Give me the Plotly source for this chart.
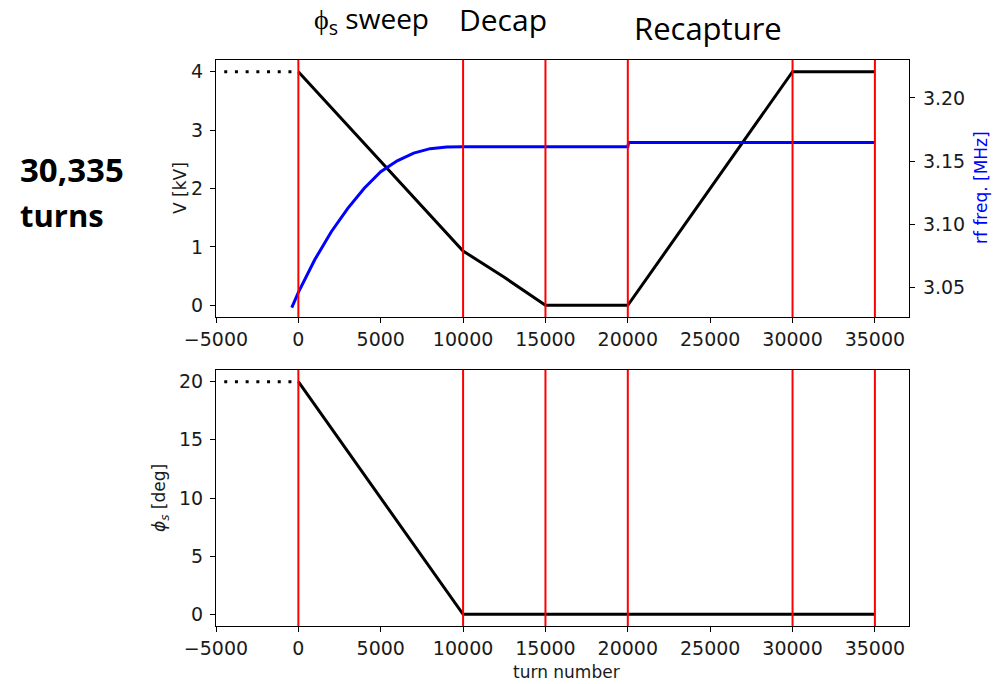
import plotly.graph_objects as go

# ---- data ----
turn_ticks = [-5000, 0, 5000, 10000, 15000, 20000, 25000, 30000, 35000]
turn_tick_text = ["\u22125000", "0", "5000", "10000", "15000", "20000", "25000", "30000", "35000"]
marker_turns = [0, 10000, 15000, 20000, 30000, 35000]

v_turn = [0, 10000, 12500, 15000, 20000, 30000, 35000]
v_kv = [4, 0.93, 0.48, 0, 0, 4, 4]
v_pre_turn = [-4500, 0]
v_pre = [4, 4]

f_turn = [-400, 0, 1000, 2000, 3000, 4000, 5000, 6000, 7000, 8000, 9000, 10000, 20000, 20050, 35000]
f_mhz = [3.034, 3.046, 3.072, 3.094, 3.1125, 3.1285, 3.1415, 3.1502, 3.1563, 3.1598, 3.1611, 3.1613,
         3.1613, 3.1647, 3.1647]

phi_turn = [0, 10000, 35000]
phi_deg = [20, 0, 0]
phi_pre_turn = [-4500, 0]
phi_pre = [20, 20]

v_ticks = [0, 1, 2, 3, 4]
f_ticks = [3.05, 3.10, 3.15, 3.20]
f_tick_text = ["3.05", "3.10", "3.15", "3.20"]
phi_ticks = [0, 5, 10, 15, 20]

# ---- layout geometry ----
W, H = 994, 684
dx0, dx1 = 216 / W, 909 / W
top_dom = [1 - 317 / H, 1 - 60 / H]
bot_dom = [1 - 626 / H, 1 - 370 / H]
xr = [-5000, 37070]

TF = dict(family="DejaVu Sans", size=19, color="#1a1a1a")
LF = dict(family="DejaVu Sans", size=17, color="#1a1a1a")
DOT = "3px,7.7px"

fig = go.Figure()
fig.add_trace(go.Scatter(x=v_pre_turn, y=v_pre, mode="lines", line=dict(color="black", width=3, dash=DOT),
                         xaxis="x", yaxis="y", showlegend=False))
fig.add_trace(go.Scatter(x=v_turn, y=v_kv, mode="lines", line=dict(color="black", width=3),
                         xaxis="x", yaxis="y", showlegend=False))
fig.add_trace(go.Scatter(x=f_turn, y=f_mhz, mode="lines", line=dict(color="#0000ff", width=3),
                         xaxis="x", yaxis="y2", showlegend=False))
fig.add_trace(go.Scatter(x=phi_pre_turn, y=phi_pre, mode="lines", line=dict(color="black", width=3, dash=DOT),
                         xaxis="x2", yaxis="y3", showlegend=False))
fig.add_trace(go.Scatter(x=phi_turn, y=phi_deg, mode="lines", line=dict(color="black", width=3),
                         xaxis="x2", yaxis="y3", showlegend=False))

shapes = []
for t in marker_turns:
    for xa, ya in (("x", "y"), ("x2", "y3")):
        shapes.append(dict(type="line", xref=xa, yref=ya + " domain", x0=t, x1=t, y0=0, y1=1,
                           line=dict(color="red", width=2), layer="above"))

axis_common = dict(showgrid=False, zeroline=False, showline=True, linecolor="black", linewidth=1.2,
                   ticks="outside", ticklen=5, tickwidth=1.2, tickcolor="black", tickfont=TF,
                   automargin=False)

fig.update_layout(
    width=W, height=H, margin=dict(l=0, r=0, t=0, b=0, pad=0, autoexpand=False),
    paper_bgcolor="white", plot_bgcolor="white", showlegend=False,
    xaxis=dict(domain=[dx0, dx1], range=xr, anchor="y", tickvals=turn_ticks, ticktext=turn_tick_text,
               mirror=True, **axis_common),
    yaxis=dict(domain=top_dom, range=[-0.2, 4.2], anchor="x", tickvals=v_ticks, mirror=True,
               ticklabelstandoff=3, **axis_common),
    yaxis2=dict(range=[3.0265, 3.2300], overlaying="y", side="right", anchor="x", tickvals=f_ticks,
                ticktext=f_tick_text, ticklabelstandoff=4, **axis_common),
    xaxis2=dict(domain=[dx0, dx1], range=xr, anchor="y3", tickvals=turn_ticks, ticktext=turn_tick_text,
                mirror=True, **axis_common),
    yaxis3=dict(domain=bot_dom, range=[-1, 21], anchor="x2", tickvals=phi_ticks, mirror=True,
                ticklabelstandoff=3, **axis_common),
    shapes=shapes,
)

ann = []
ann.append(dict(text="V [kV]", x=180 / W, y=1 - 188 / H, textangle=-90, font=LF))
ann.append(dict(text="rf freq. [MHz]", x=981 / W, y=1 - 188 / H, textangle=-90,
                font=dict(family="DejaVu Sans", size=17, color="#0000ff")))
ann.append(dict(text="<i>\u03d5</i><sub><i>s</i></sub> [deg]", x=160 / W, y=1 - 498 / H, textangle=-90, font=LF))
ann.append(dict(text="turn number", x=566 / W, y=1 - 672 / H, font=LF))
ann.append(dict(text="\u03d5<sub>s</sub> sweep", x=371 / W, y=1 - 20 / H,
                font=dict(family="Open Sans", size=28, color="black")))
ann.append(dict(text="Decap", x=503 / W, y=1 - 20 / H, font=dict(family="Open Sans", size=30, color="black")))
ann.append(dict(text="Recapture", x=708 / W, y=1 - 28 / H, font=dict(family="Open Sans", size=31, color="black")))
ann.append(dict(text="<b>30,335</b>", x=18 / W, y=1 - 170 / H, xanchor="left",
                font=dict(family="Open Sans", size=33, color="black")))
ann.append(dict(text="<b>turns</b>", x=18 / W, y=1 - 215 / H, xanchor="left",
                font=dict(family="Open Sans", size=31, color="black")))
for a in ann:
    a.setdefault("xanchor", "center")
    a.update(xref="paper", yref="paper", showarrow=False, yanchor="middle")
fig.update_layout(annotations=ann)

fig.write_html("out.html")
